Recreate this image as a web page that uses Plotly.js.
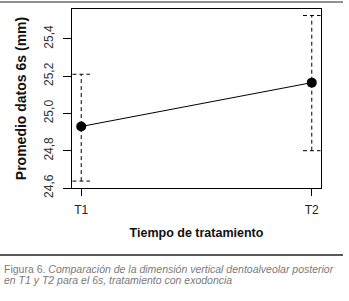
<!DOCTYPE html>
<html>
<head>
<meta charset="utf-8">
<script src="https://cdn.plot.ly/plotly-3.0.1.min.js"></script>
<style>
html,body{margin:0;padding:0;background:#fff;}
#chart{width:349px;height:301px;}
</style>
</head>
<body>
<div id="chart"></div>
<script>
// Data
const categories = ['T1', 'T2'];
const xPositions = [1, 2];
const means = [24.93, 25.165];
const upper = [25.21, 25.525];
const lower = [24.637, 24.80];
const yTickVals = [24.6, 24.8, 25.0, 25.2, 25.4];

const FONT = '"Liberation Sans Narrow", "Arial Narrow", "Liberation Sans", Arial, sans-serif';
const capHalf = 0.038;

// Dashed error bars with caps as line traces
const ex = [], ey = [];
for (let i = 0; i < xPositions.length; i++) {
  const x = xPositions[i];
  ex.push(x, x, null, x - capHalf, x + capHalf, null, x - capHalf, x + capHalf, null);
  ey.push(lower[i], upper[i], null, upper[i], upper[i], null, lower[i], lower[i], null);
}

const traces = [
  {
    x: ex, y: ey, type: 'scatter', mode: 'lines',
    line: {color: '#000', width: 1, dash: '4px,3px'},
    hoverinfo: 'skip', showlegend: false
  },
  {
    x: xPositions, y: means, type: 'scatter', mode: 'lines+markers',
    line: {color: '#000', width: 1},
    marker: {color: '#000', size: 10},
    showlegend: false
  }
];

const layout = {
  width: 349, height: 301,
  margin: {l: 72, r: 28, t: 9, b: 113},
  paper_bgcolor: '#fff', plot_bgcolor: '#fff',
  separators: ',.',
  font: {family: FONT, color: '#222', size: 12},
  xaxis: {
    range: [0.96, 2.04],
    tickvals: xPositions, ticktext: categories,
    showgrid: false, zeroline: false,
    showline: true, linecolor: '#000', linewidth: 1, mirror: true,
    ticks: 'outside', ticklen: 7, tickcolor: '#000', tickwidth: 1,
    ticklabelstandoff: 4,
    tickfont: {family: FONT, size: 12, color: '#222'},
    title: {text: '<b>Tiempo de tratamiento</b>', font: {family: FONT, size: 12.5, color: '#111'}, standoff: 11}
  },
  yaxis: {
    range: [24.6, 25.56],
    tickvals: yTickVals, tickformat: '.1f',
    showgrid: false, zeroline: false,
    showline: true, linecolor: '#000', linewidth: 1, mirror: true,
    ticks: 'outside', ticklen: 8, tickcolor: '#000', tickwidth: 1,
    tickangle: -90,
    ticklabelstandoff: 5,
    tickfont: {family: FONT, size: 12, color: '#333'},
    title: {text: '<b>Promedio datos 6s (mm)</b>', font: {family: FONT, size: 14, color: '#111'}, standoff: 12}
  },
  shapes: [
    {type: 'line', xref: 'paper', yref: 'paper', x0: -72/249, x1: 271/249, y0: 1 + 7/179, y1: 1 + 7/179,
     line: {color: '#222', width: 1}},
    {type: 'line', xref: 'paper', yref: 'paper', x0: -72/249, x1: 271/249, y0: -67/179, y1: -67/179,
     line: {color: '#222', width: 1.5}}
  ],
  annotations: [
    {xref: 'paper', yref: 'paper', x: -70/249, y: -81/179, xanchor: 'left', yanchor: 'middle',
     align: 'left', showarrow: false,
     font: {family: FONT, size: 10.5, color: '#7a7a7a'},
     text: 'Figura 6. <i>Comparación de la dimensión vertical dentoalveolar posterior</i>'},
    {xref: 'paper', yref: 'paper', x: -70/249, y: -92/179, xanchor: 'left', yanchor: 'middle',
     align: 'left', showarrow: false,
     font: {family: FONT, size: 10.5, color: '#7a7a7a'},
     text: '<i>en T1 y T2 para el 6s, tratamiento con exodoncia</i>'}
  ]
};

Plotly.newPlot('chart', traces, layout, {displayModeBar: false, staticPlot: true});
</script>
</body>
</html>
